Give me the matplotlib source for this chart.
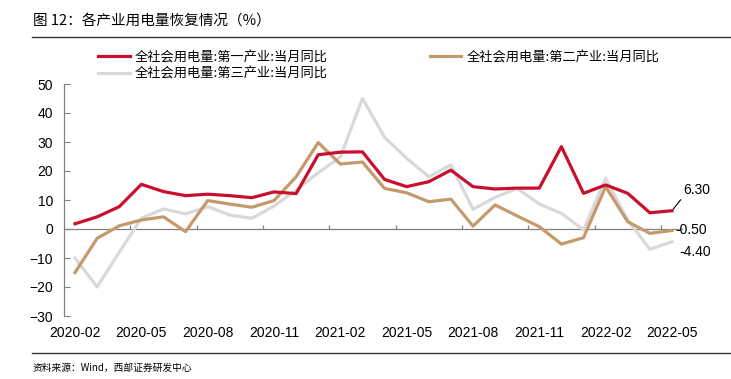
import matplotlib.pyplot as plt
import matplotlib.lines as mlines
import numpy as np
import pandas as pd

plt.rcParams['font.family'] = ['Liberation Sans', 'Noto Sans CJK SC', 'DejaVu Sans']
CJK = ['Noto Sans CJK SC', 'DejaVu Sans']

# 2020-02 ... 2022-05, monthly
months = [p.strftime('%Y-%m') for p in pd.period_range('2020-02', '2022-05', freq='M')]

primary = [1.8, 4.2, 7.7, 15.4, 12.9, 11.5, 12.0, 11.5, 10.8, 12.8, 12.2, 25.6, 26.5, 26.6,
           17.1, 14.6, 16.3, 20.3, 14.6, 13.8, 14.1, 14.1, 28.4, 12.3, 15.2, 12.3, 5.6, 6.3]
secondary = [-15.0, -3.2, 1.1, 3.1, 4.2, -0.9, 9.8, 8.6, 7.5, 9.8, 18.0, 29.8, 22.4, 23.1,
             14.0, 12.5, 9.4, 10.3, 1.0, 8.3, 4.5, 0.8, -5.2, -3.0, 14.6, 2.5, -1.5, -0.5]
tertiary = [-10.0, -20.0, -8.0, 3.7, 6.9, 5.2, 7.7, 4.8, 3.7, 7.9, 13.4, 19.4, 24.8, 45.0,
            31.6, 24.4, 18.0, 22.1, 6.8, 10.9, 14.0, 8.6, 5.4, -0.3, 17.5, 3.1, -7.0, -4.4]

labels = ['全社会用电量:第一产业:当月同比', '全社会用电量:第三产业:当月同比', '全社会用电量:第二产业:当月同比']
colors = ['#C8102E', '#D9D9D9', '#C49A6C']

x = np.arange(len(months))

fig = plt.figure(figsize=(7.31, 3.79), dpi=100)
ax = fig.add_axes([64 / 731, 1 - 316 / 379, (683 - 64) / 731, (316 - 84) / 379])

l1, = ax.plot(x, primary, color=colors[0], lw=2.3, zorder=4)
l3, = ax.plot(x, tertiary, color=colors[1], lw=2.3, zorder=2)
l2, = ax.plot(x, secondary, color=colors[2], lw=2.3, zorder=3)

ax.set_xlim(-0.5, len(months) - 0.5)
ax.set_ylim(-30, 50)
ax.set_yticks(np.arange(-30, 51, 10))
ax.set_xticks(x[::3])
ax.set_xticklabels(months[::3])

axis_gray = '#808080'
ax.axhline(0, color=axis_gray, lw=0.9, zorder=1)
ax.vlines(x[::3][1:] - 0.5, 0, 1.3, color=axis_gray, lw=0.9, zorder=1)
for s in ['top', 'right', 'bottom']:
    ax.spines[s].set_visible(False)
ax.spines['left'].set_color(axis_gray)
ax.spines['left'].set_linewidth(0.9)
ax.tick_params(axis='y', direction='in', length=4, color=axis_gray, pad=8, labelsize=10)
ax.tick_params(axis='x', length=0, pad=7, labelsize=10)

# end-point labels
ax.annotate(f'{primary[-1]:.2f}', xy=(x[-1], primary[-1]), xytext=(8, 10),
            textcoords='offset points', fontsize=10, va='bottom', ha='left',
            arrowprops=dict(arrowstyle='-', color='black', lw=0.8,
                            shrinkA=0, shrinkB=0, relpos=(0, 0)),
            annotation_clip=False)
ax.text(x[-1] + 0.15, secondary[-1], f'{secondary[-1]:.2f}', fontsize=10, va='center', ha='left')
ax.text(x[-1] + 0.35, tertiary[-1] - 3.5, f'{tertiary[-1]:.2f}', fontsize=10, va='center', ha='left')

fig.legend([l1, l3, l2], labels, loc='upper left', bbox_to_anchor=(98 / 731, 1 - 51 / 379),
           ncol=2, frameon=False, prop={'family': CJK, 'size': 9.5}, handlelength=2.4,
           handletextpad=0.4, columnspacing=7.7, labelspacing=0.25, borderpad=0, borderaxespad=0)

fig.text(33 / 731, 1 - 22 / 379, '图 12：各产业用电量恢复情况（%）', family=CJK, fontsize=10.5,
         va='center', ha='left')
fig.add_artist(mlines.Line2D([32 / 731, 1], [1 - 37 / 379] * 2, color='#333333', lw=1.0))
fig.add_artist(mlines.Line2D([32 / 731, 1], [1 - 353 / 379] * 2, color='#333333', lw=1.0))
fig.text(33 / 731, 1 - 368 / 379, '资料来源：Wind，西部证券研发中心', family=CJK, fontsize=7,
         va='center', ha='left')

fig.savefig('out.png', dpi=100)
